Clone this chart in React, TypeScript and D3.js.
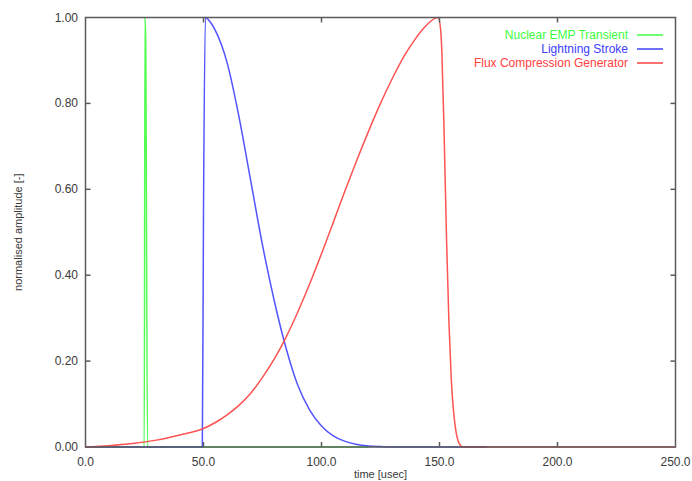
import React from "react";
import * as d3 from "d3";

const xTicks = [0, 50, 100, 150, 200, 250];
const yTicks = [0, 0.2, 0.4, 0.6, 0.8, 1.0];

const empT = [0, 24.9, 25.2, 25.5, 26.3, 120];
const empV = [0, 0, 1.0, 0.95, 0, 0];

const lightT = [0, 49.5, 50.0, 50.8, 52, 55, 60, 65, 70, 75, 80, 85, 90, 95, 100, 105, 110, 115, 120, 125, 130, 170];
const lightV = [0, 0, 0.55, 1.0, 0.995, 0.97, 0.895, 0.77, 0.62, 0.47, 0.34, 0.23, 0.143, 0.086, 0.049, 0.026, 0.013, 0.006, 0.0025, 0.001, 0, 0];

const fluxT = [0, 10, 20, 30, 40, 50, 55, 60, 65, 70, 75, 80, 85, 90, 95, 100, 105, 110, 115, 120, 125, 130, 135, 140, 143, 146, 148, 149.5, 150.5, 151, 152, 153, 154, 155, 156, 157, 158, 159, 160, 250];
const fluxV = [0, 0.003, 0.008, 0.016, 0.028, 0.043, 0.057, 0.075, 0.097, 0.125, 0.162, 0.205, 0.256, 0.315, 0.38, 0.45, 0.523, 0.597, 0.668, 0.736, 0.8, 0.858, 0.91, 0.952, 0.973, 0.99, 0.998, 1.0, 0.97, 0.92, 0.72, 0.48, 0.29, 0.156, 0.08, 0.035, 0.012, 0.003, 0, 0];

const seriesNames = ["Nuclear EMP Transient", "Lightning Stroke", "Flux Compression Generator"];
const seriesColors = ["#40ff40", "#4040ff", "#ff4040"];

export default function App() {
  const W = 692, H = 481;
  const x = d3.scaleLinear().domain([0, 250]).range([85.5, 675.5]);
  const y = d3.scaleLinear().domain([0, 1]).range([447, 17.5]);
  const line = d3.line<[number, number]>().x(d => x(d[0])).y(d => y(d[1])).curve(d3.curveMonotoneX);
  const series = [
    empT.map((t, i) => [t, empV[i]] as [number, number]),
    lightT.map((t, i) => [t, lightV[i]] as [number, number]),
    fluxT.map((t, i) => [t, fluxV[i]] as [number, number]),
  ];
  const font = "Liberation Sans, Arial, sans-serif";
  const axisCol = "#5a5a5a";
  const textCol = "#3a3a3a";
  const [x0, x1] = x.range();
  const [yb, yt] = y.range();
  return (
    <svg width={W} height={H} style={{ position: "absolute", left: 0, top: 0, background: "#fff" }} fontFamily={font}>
      <rect x={0} y={0} width={W} height={H} fill="#fff" />
      {series.map((s, i) => (
        <path key={i} d={line(s) || ""} fill="none" stroke={seriesColors[i]} strokeWidth={1.5} strokeOpacity={0.9} />
      ))}
      <rect x={x0} y={yt} width={x1 - x0} height={yb - yt} fill="none" stroke={axisCol} strokeWidth={1.5} />
      {xTicks.slice(1, -1).map(t => (
        <g key={"xt" + t}>
          <line x1={x(t)} x2={x(t)} y1={yb} y2={yb - 5} stroke={axisCol} strokeWidth={1.5} />
          <line x1={x(t)} x2={x(t)} y1={yt} y2={yt + 5} stroke={axisCol} strokeWidth={1.5} />
        </g>
      ))}
      {yTicks.slice(1, -1).map(t => (
        <g key={"yt" + t}>
          <line x1={x0} x2={x0 + 5} y1={y(t)} y2={y(t)} stroke={axisCol} strokeWidth={1.5} />
          <line x1={x1} x2={x1 - 5} y1={y(t)} y2={y(t)} stroke={axisCol} strokeWidth={1.5} />
        </g>
      ))}
      {xTicks.map(t => (
        <text key={"xl" + t} x={x(t)} y={466} fontSize={12} fill={textCol} textAnchor="middle">{t.toFixed(1)}</text>
      ))}
      {yTicks.map(t => (
        <text key={"yl" + t} x={78} y={y(t) + 4} fontSize={12} fill={textCol} textAnchor="end">{t.toFixed(2)}</text>
      ))}
      <text x={(x0 + x1) / 2} y={478} fontSize={11} fill={textCol} textAnchor="middle">time [usec]</text>
      <text transform={`translate(22,${(yt + yb) / 2}) rotate(-90)`} fontSize={11} fill={textCol} textAnchor="middle">normalised amplitude [-]</text>
      {seriesNames.map((n, i) => (
        <g key={"lg" + i}>
          <text x={628} y={39 + i * 14} fontSize={12} fill={seriesColors[i]} textAnchor="end">{n}</text>
          <line x1={637} x2={663} y1={35 + i * 14} y2={35 + i * 14} stroke={seriesColors[i]} strokeWidth={1.5} />
        </g>
      ))}
    </svg>
  );
}
